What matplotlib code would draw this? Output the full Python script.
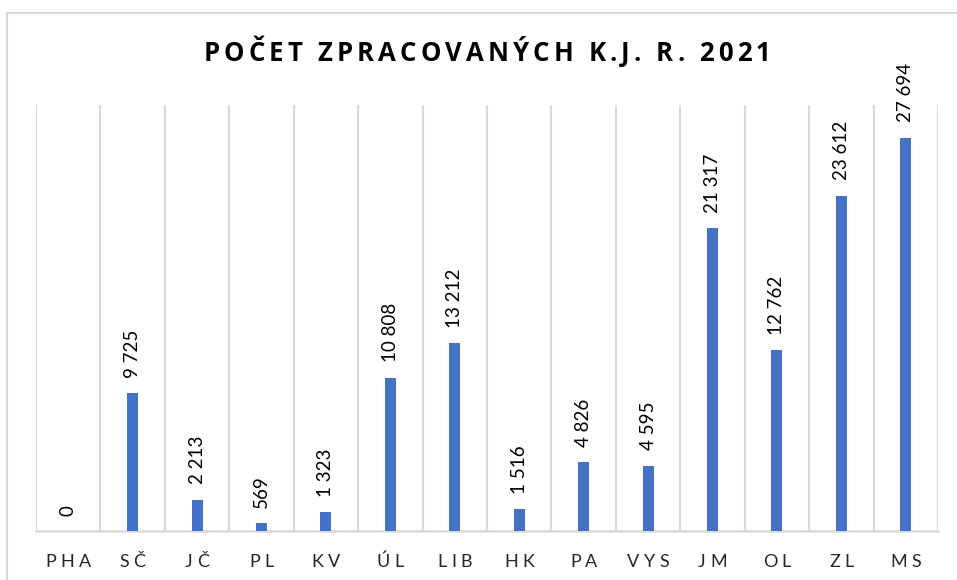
import matplotlib
matplotlib.use("Agg")
import matplotlib.pyplot as plt
import matplotlib.transforms as mtransforms
from matplotlib.font_manager import FontProperties
from matplotlib.patches import Rectangle
from matplotlib.textpath import TextToPath

regions = ["PHA", "SČ", "JČ", "PL", "KV", "ÚL", "LIB", "HK", "PA", "VYS", "JM", "OL", "ZL", "MS"]
counts = [0, 9725, 2213, 569, 1323, 10808, 13212, 1516, 4826, 4595, 21317, 12762, 23612, 27694]
title = "POČET ZPRACOVANÝCH K.J. R. 2021"

BAR_COLOR = "#4472C4"
GRID_COLOR = "#D9D9D9"

_ttp = TextToPath()


def spaced_text(fig, x, y, s, transform, prop, spacing_pt, color="black"):
    # matplotlib has no letter-spacing, so place each glyph on its own
    widths = [_ttp.get_text_width_height_descent(c, prop, ismath=False)[0] for c in s]
    total = sum(widths) + spacing_pt * (len(s) - 1)
    off = -total / 2
    for c, w in zip(s, widths):
        tr = transform + mtransforms.ScaledTranslation(off / 72, 0, fig.dpi_scale_trans)
        fig.text(x, y, c, transform=tr, fontproperties=prop, ha="left",
                 va="baseline", color=color)
        off += w + spacing_pt


def fmt(v):
    return f"{v:,}".replace(",", " ")


fig = plt.figure(figsize=(9.57, 5.8), dpi=100)
W, H = 957, 580

# outer chart frame (right and bottom edges fall outside the canvas)
fig.patches.append(Rectangle((7 / W, -0.05), 1.0, 1.05 - 13 / H,
                             transform=fig.transFigure, fill=False,
                             edgecolor=GRID_COLOR, linewidth=1.5))

ax = fig.add_axes([36 / W, 49 / H, (938 - 36) / W, (531 - 105) / H])
x = list(range(len(regions)))
ax.bar(x, counts, width=0.17, color=BAR_COLOR, zorder=3)
ax.set_xlim(-0.5, len(regions) - 0.5)
ax.set_ylim(0, 30000)

for b in range(len(regions) + 1):
    ax.axvline(b - 0.5, color=GRID_COLOR, linewidth=1.5, zorder=1)

for s in ["top", "right", "left"]:
    ax.spines[s].set_visible(False)
ax.spines["bottom"].set_color(GRID_COLOR)
ax.spines["bottom"].set_linewidth(1.8)
ax.set_xticks([])
ax.set_yticks([])

label_font = FontProperties(family="Lato", size=13.5)
for xi, v in zip(x, counts):
    ax.annotate(fmt(v), (xi, v), xytext=(0, 11), textcoords="offset points",
                rotation=90, ha="center", va="bottom", fontproperties=label_font,
                color="black")

tick_font = FontProperties(family="Lato", size=13)
tick_tr = mtransforms.blended_transform_factory(ax.transData, fig.transFigure)
for xi, r in zip(x, regions):
    spaced_text(fig, xi, 1 - 567 / H, r, tick_tr, tick_font, 3.0, color="#262626")

title_font = FontProperties(family="Open Sans", size=18.5, weight="bold")
spaced_text(fig, 487 / W, 1 - 61 / H, title, fig.transFigure, title_font, 3.0)

fig.savefig("out.png", dpi=100)
